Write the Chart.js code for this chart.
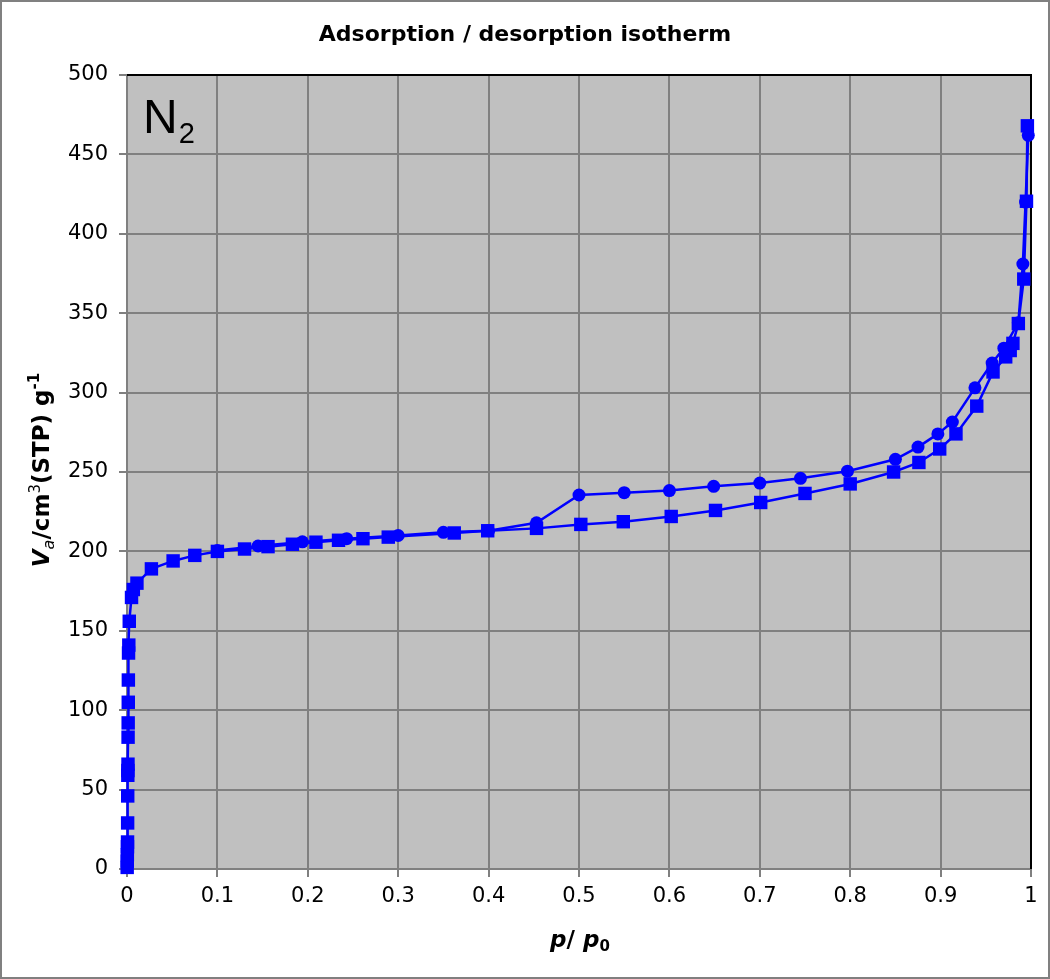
<!DOCTYPE html>
<html>
<head>
<meta charset="utf-8">
<script src="https://cdn.jsdelivr.net/npm/chart.js@4"></script>
<style>
  body { margin: 0; background: #fff; }
  canvas { display: block; }
</style>
</head>
<body>
<canvas id="chart" width="1050" height="979"></canvas>
<script>
// adsorption branch (squares)
const adsX = [0.0002, 0.0003, 0.0004, 0.0005, 0.0006, 0.0007, 0.0008, 0.0009, 0.001, 0.0011,
  0.0012, 0.0013, 0.0014, 0.0015, 0.0017, 0.002, 0.0025, 0.005, 0.007, 0.011,
  0.027, 0.051, 0.075, 0.1, 0.13, 0.156, 0.183, 0.209, 0.234, 0.261,
  0.289, 0.362, 0.399, 0.453, 0.502, 0.549, 0.602, 0.651, 0.701, 0.75,
  0.8, 0.848, 0.876, 0.899, 0.917, 0.94, 0.958, 0.972, 0.977, 0.98,
  0.986, 0.992, 0.995, 0.996];
const adsY = [1, 5, 9, 14, 17, 29, 46, 59, 62, 66,
  83, 92, 105, 119, 136, 141, 156, 171, 176, 180,
  189, 194, 197.5, 200, 201.5, 203, 204.5, 205.8, 207, 208,
  209, 211.6, 213, 214.5, 217, 218.7, 222, 225.8, 230.8, 236.5,
  242.5, 250, 256, 264.5, 274, 291.5, 313, 322.5, 326.5, 331,
  343.5, 371.5, 420.5, 468];

// desorption branch (circles)
const desX = [0.1, 0.145, 0.194, 0.243, 0.3, 0.35, 0.4, 0.453, 0.5, 0.55,
  0.6, 0.649, 0.7, 0.745, 0.797, 0.85, 0.875, 0.897, 0.913, 0.938,
  0.957, 0.97, 0.986, 0.991, 0.994, 0.997];
const desY = [200.5, 203.4, 206, 208, 210, 212, 213, 218, 235.5, 237,
  238.3, 241, 243, 246, 250.5, 258, 265.7, 274, 281.5, 303,
  318.6, 328, 344, 381, 420, 462];

const xTicks = [0, 0.1, 0.2, 0.3, 0.4, 0.5, 0.6, 0.7, 0.8, 0.9, 1];
const yTicks = [0, 50, 100, 150, 200, 250, 300, 350, 400, 450, 500];

const FONT = "'DejaVu Sans', Verdana, sans-serif";

// draw a line of mixed-style text, centered at 0
function richText(ctx, parts) {
  let total = 0;
  parts.forEach(p => { ctx.font = p.font; p.w = ctx.measureText(p.t).width; total += p.w; });
  let x = -total / 2;
  parts.forEach(p => {
    ctx.font = p.font;
    ctx.fillText(p.t, x, p.dy || 0);
    x += p.w;
  });
}

const extras = {
  id: "extras",
  beforeDraw(chart) {
    const { ctx, chartArea: a } = chart;
    ctx.save();
    ctx.fillStyle = "#fff";
    ctx.fillRect(0, 0, chart.width, chart.height);
    ctx.fillStyle = "#c0c0c0";
    ctx.fillRect(a.left, a.top, a.right - a.left, a.bottom - a.top);
    ctx.restore();
  },
  beforeDatasetsDraw(chart) {
    // black top / right frame of plot area, under the marks
    const { ctx, chartArea: a } = chart;
    ctx.save();
    ctx.strokeStyle = "#000";
    ctx.lineWidth = 2;
    ctx.beginPath();
    ctx.moveTo(a.left, a.top);
    ctx.lineTo(a.right, a.top);
    ctx.lineTo(a.right, a.bottom);
    ctx.stroke();
    ctx.restore();
  },
  afterDraw(chart) {
    const { ctx } = chart;
    ctx.save();

    // outer frame
    ctx.strokeStyle = "#808080";
    ctx.lineWidth = 2;
    ctx.strokeRect(1, 1, chart.width - 2, chart.height - 2);

    ctx.fillStyle = "#000";
    ctx.textBaseline = "alphabetic";

    // title
    ctx.textAlign = "center";
    ctx.font = "bold 22px " + FONT;
    ctx.fillText("Adsorption / desorption isotherm", 525, 41);

    // N2 label
    ctx.textAlign = "left";
    ctx.font = "48px 'Liberation Sans', Arial, sans-serif";
    ctx.fillText("N", 143, 133);
    const nw = ctx.measureText("N").width;
    ctx.font = "29px 'Liberation Sans', Arial, sans-serif";
    ctx.fillText("2", 143 + nw + 1, 143);

    // x axis title
    ctx.save();
    ctx.translate(580, 947);
    richText(ctx, [
      { t: "p", font: "italic bold 23px " + FONT },
      { t: "/ ", font: "bold 23px " + FONT },
      { t: "p", font: "italic bold 23px " + FONT },
      { t: "0", font: "bold 15px " + FONT, dy: 4 }
    ]);
    ctx.restore();

    // y axis title
    ctx.save();
    ctx.translate(49, 470);
    ctx.rotate(-Math.PI / 2);
    richText(ctx, [
      { t: "V", font: "italic bold 23px " + FONT },
      { t: "a", font: "italic 16px " + FONT, dy: 5 },
      { t: "/cm", font: "bold 23px " + FONT },
      { t: "3", font: "15px " + FONT, dy: -9 },
      { t: "(STP) g", font: "bold 23px " + FONT },
      { t: "-1", font: "bold 15px " + FONT, dy: -10 }
    ]);
    ctx.restore();
    ctx.restore();
  }
};

const toPoints = (xs, ys) => xs.map((x, i) => ({ x, y: ys[i] }));

new Chart(document.getElementById("chart"), {
  type: "scatter",
  data: {
    datasets: [
      {
        label: "Desorption",
        data: toPoints(desX, desY),
        showLine: true,
        clip: false,
        borderColor: "#0000ff",
        backgroundColor: "#0000ff",
        borderWidth: 2.5,
        pointStyle: "circle",
        pointRadius: 6.5,
        pointBorderWidth: 0
      },
      {
        label: "Adsorption",
        data: toPoints(adsX, adsY),
        showLine: true,
        clip: false,
        borderColor: "#0000ff",
        backgroundColor: "#0000ff",
        borderWidth: 2.5,
        pointStyle: "rect",
        pointRadius: 9.5,
        pointBorderWidth: 0
      }
    ]
  },
  options: {
    responsive: false,
    animation: false,
    devicePixelRatio: 1,
    layout: { padding: { top: 75, right: 19, left: 0, bottom: 0 } },
    plugins: {
      legend: { display: false },
      title: { display: false },
      tooltip: { enabled: false }
    },
    scales: {
      x: {
        type: "linear",
        min: 0,
        max: 1,
        afterBuildTicks: s => { s.ticks = xTicks.map(v => ({ value: v })); },
        afterFit: s => { s.height = 110; },
        ticks: {
          color: "#000",
          font: { family: FONT, size: 21 },
          padding: 7,
          maxRotation: 0,
          callback: v => String(+v.toFixed(1))
        },
        grid: { color: "#808080", lineWidth: 2, tickLength: 8, drawOnChartArea: true },
        border: { color: "#808080", width: 2 }
      },
      y: {
        min: 0,
        max: 500,
        afterBuildTicks: s => { s.ticks = yTicks.map(v => ({ value: v })); },
        afterFit: s => { s.width = 127; },
        ticks: {
          color: "#000",
          font: { family: FONT, size: 21 },
          padding: 11
        },
        grid: { color: "#808080", lineWidth: 2, tickLength: 8 },
        border: { color: "#808080", width: 2 }
      }
    }
  },
  plugins: [extras]
});
</script>
</body>
</html>
